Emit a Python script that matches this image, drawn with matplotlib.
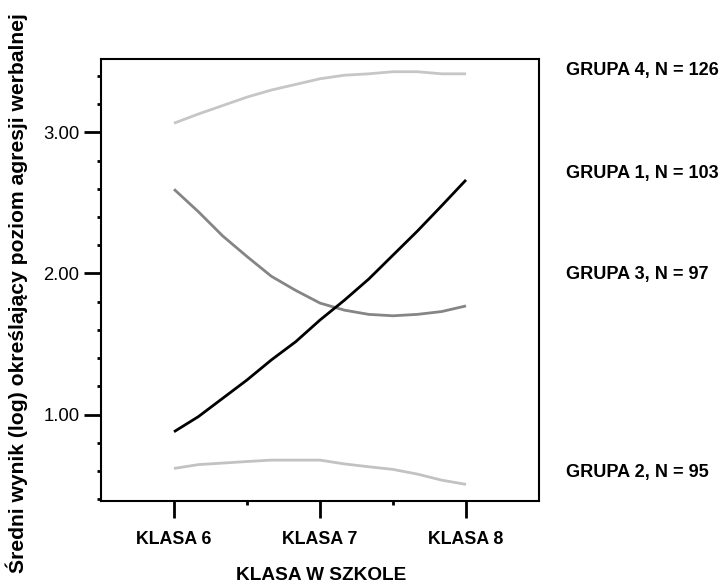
import matplotlib
matplotlib.use("Agg")
import matplotlib.pyplot as plt
from matplotlib.ticker import FixedLocator, NullFormatter

plt.rcParams['font.family'] = ['Liberation Sans', 'DejaVu Sans']

# punkty wygładzonej krzywej: klasa 6 .. klasa 8 co 1/6
klasa = [6 + i / 6 for i in range(13)]
klasy_ticks = [6, 7, 8]
klasy_labels = ["KLASA 6", "KLASA 7", "KLASA 8"]

grupa4 = [3.065, 3.13, 3.19, 3.25, 3.30, 3.34, 3.38, 3.405, 3.415, 3.43, 3.43, 3.415, 3.415]
grupa1 = [0.878, 0.985, 1.115, 1.245, 1.387, 1.516, 1.67, 1.81, 1.96, 2.13, 2.30, 2.48, 2.663]
grupa3 = [2.597, 2.438, 2.266, 2.12, 1.98, 1.88, 1.79, 1.74, 1.71, 1.70, 1.71, 1.73, 1.77]
grupa2 = [0.618, 0.645, 0.656, 0.667, 0.677, 0.677, 0.677, 0.65, 0.63, 0.611, 0.578, 0.535, 0.505]

etykiety = ["GRUPA 4, N = 126", "GRUPA 1, N = 103", "GRUPA 3, N = 97", "GRUPA 2, N = 95"]

fig = plt.figure(figsize=(7.24, 5.86), dpi=100)
ax = fig.add_axes([0.1395, 0.145, 0.605, 0.7543])

ax.plot(klasa, grupa4, color='#c6c6c6', lw=2.0, solid_capstyle='butt')
ax.plot(klasa, grupa3, color='#858585', lw=2.0, solid_capstyle='butt')
ax.plot(klasa, grupa1, color='black', lw=2.0, solid_capstyle='butt')
ax.plot(klasa, grupa2, color='#c2c2c2', lw=2.0, solid_capstyle='butt')

ax.set_xlim(5.5, 8.5)
ax.set_ylim(0.387, 3.52)

ax.xaxis.set_major_locator(FixedLocator(klasy_ticks))
ax.set_xticklabels(klasy_labels, fontsize=12.8, fontweight='bold')
ax.xaxis.set_minor_locator(FixedLocator([6.5, 7.5]))

ax.yaxis.set_major_locator(FixedLocator([1, 2, 3]))
ax.set_yticklabels(["1.00", "2.00", "3.00"], fontsize=13.3)
ax.yaxis.set_minor_locator(FixedLocator([0.4 + 0.2 * i for i in range(16)]))
ax.yaxis.set_minor_formatter(NullFormatter())

ax.tick_params(axis='both', which='major', length=12, width=2, direction='out')
ax.tick_params(axis='both', which='minor', length=3, width=2, direction='out')
ax.tick_params(axis='y', which='major', pad=3.5)
ax.tick_params(axis='x', which='major', pad=9.5)

for s in ax.spines.values():
    s.set_linewidth(1.5)

ax.set_xlabel("KLASA W SZKOLE", fontsize=13.7, fontweight='bold')
ax.xaxis.set_label_coords(0.502, -0.168)
ax.xaxis.label.set_va('center')

ax.set_ylabel("Średni wynik (log) określający poziom agresji werbalnej",
              fontsize=15.2, fontweight='bold')
ax.yaxis.set_label_coords(-0.192, 0.47)
ax.yaxis.label.set_va('center')

# etykiety grup po prawej stronie
pozycje_y = [70.7, 173, 274, 473]
for txt, py in zip(etykiety, pozycje_y):
    fig.text(566 / 724, 1 - py / 586, txt, fontsize=13.1, fontweight='bold',
             ha='left', va='center')

fig.savefig("out.png", dpi=100)
